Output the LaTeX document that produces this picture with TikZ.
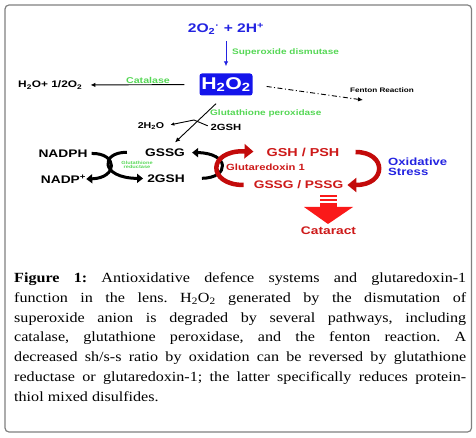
\documentclass[tikz,border=0pt]{standalone}
\usepackage{fontspec}
\usetikzlibrary{arrows.meta}
\newfontfamily\diafont[FakeStretch=1.25]{Liberation Sans}
\newfontfamily\captfont[FakeStretch=1.15]{Liberation Serif}
\definecolor{oxblue}{RGB}{35,35,225}
\definecolor{boxblue}{RGB}{20,20,235}
\definecolor{enzgreen}{RGB}{85,215,85}
\definecolor{grxred}{RGB}{205,25,25}
\definecolor{arcred}{RGB}{195,10,10}
\definecolor{catred}{RGB}{250,25,25}

\begin{document}
\begin{tikzpicture}[x=1pt,y=-1pt,
 lab/.style={font=\diafont\bfseries\fontsize{#1}{#1}\selectfont,inner sep=0pt},
 enz/.style={lab=#1,text=enzgreen},
 rxn/.style={-{Latex[length=5pt,width=4.5pt]},line width=.9pt},
 fat/.style={line width=3pt,-{Triangle[length=6pt,width=9pt]}},
 redfat/.style={line width=4.5pt,arcred,-{Triangle[length=9pt,width=14pt]}}]
\useasboundingbox (0,0) rectangle (476,438);
\draw[gray,line width=1.2pt,rounded corners=4pt] (5,5) rectangle (471.5,432);
% superoxide and H2O2
\node[lab=12.5,text=oxblue] (sup) at (226,29) {2O\textsubscript{2}\textsuperscript{·} + 2H\textsuperscript{+}};
\node[lab=17,text=white,fill=boxblue,rounded corners=2.5pt,minimum width=53pt,minimum height=22pt] (hoo) at (226,84.5) {H\textsubscript{2}O\textsubscript{2}};
\draw[rxn,oxblue] (sup) -- (hoo) [shorten <=6pt,shorten >=7pt];
\node[enz=8,anchor=west] (sod) at (232,52) {Superoxide dismutase};
% catalase and fenton
\node[lab=9.5,anchor=west] (prod) at (18,85) {H\textsubscript{2}O+ 1/2O\textsubscript{2}};
\draw[rxn] (hoo.west) -- (prod.east) [shorten <=15pt,shorten >=8pt];
\node[enz=8.5] (cat) at (148,80) {Catalase};
\node[lab=6.5] (fen) at (382,90) {Fenton Reaction};
\coordinate (fenend) at (363,100);
\draw[rxn,dash pattern=on 5pt off 2.5pt on 1pt off 2.5pt] (hoo.east) -- (fenend) [shorten <=14pt];
% glutathione peroxidase
\node[lab=11] (gssg) at (165,152.5) {GSSG};
\node[lab=11] (gshbot) at (166,178.5) {2GSH};
\node[enz=8,anchor=west] (gpx) at (210,113) {Glutathione peroxidase};
\draw[rxn] ([shift={(-10,8)}]hoo.south) -- ([shift={(10,-6)}]gssg.north);
\node[lab=9] (gshtop) at (226,127) {2GSH};
\node[lab=8.5] (wat) at (151,126) {2H\textsubscript{2}O};
\coordinate (apex) at (194,120);
\draw[rxn,-{Latex[length=4pt,width=3.5pt]}] (gshtop.west) -- (apex) -- (wat.east) [shorten <=3pt,shorten >=6pt];
% glutathione reductase
\node[lab=11] (nadph) at (63,153.5) {NADPH};
\node[lab=11] (nadp) at (63.5,179) {NADP\textsuperscript{+}};
\node[enz=4.5,align=center] (gr) at (137,165) {Glutathione\\reductase};
\draw[fat] (nadph.east) .. controls (118,153) and (118,178) .. (nadp.east) [shorten <=4pt];
\draw[fat] (gssg.west) .. controls (100,152) and (100,178) .. (gshbot.west) [shorten <=18pt,shorten >=4pt];
\draw[fat] (gshbot.east) .. controls (230,178) and (230,153) .. (gssg.east) [shorten <=17pt,shorten >=7pt];
% glutaredoxin cycle
\node[lab=11.5,text=grxred] (gshpsh) at (303,152) {GSH / PSH};
\node[lab=11,text=grxred] (gsspss) at (298.5,185) {GSSG / PSSG};
\node[lab=9,text=grxred,anchor=west] (grx) at (226,167.5) {Glutaredoxin 1};
\draw[redfat] (gsspss.west) .. controls (207,185) and (207,150) .. (gshpsh.west) [shorten <=10pt,shorten >=13pt];
\draw[redfat] (gshpsh.east) .. controls (387,152) and (387,185) .. (gsspss.east) [shorten <=16pt,shorten >=4pt];
\node[lab=10.5,text=oxblue,align=left,anchor=west,font=\diafont\bfseries\fontsize{10.5}{10}\selectfont] (stress) at (388,167) {Oxidative\\Stress};
% cataract
\node[lab=11,text=grxred] (cta) at (328.5,231) {Cataract};
\foreach \yy in {195,199}{\fill[catred] (319.5,\yy) rectangle (336.5,\yy+2.3);}
\fill[catred] (319.5,203) rectangle (336.5,208);
\fill[catred] (304,207) -- (353,207) -- (328,224) -- cycle;
% caption
\node[anchor=north west,inner sep=0pt,text width=452pt,align=justify,font=\captfont\fontsize{14}{19.8}\selectfont\frenchspacing] (capt) at (14,272.5) {{\bfseries Figure 1:} Antioxidative defence systems and glutaredoxin-1\linebreak function in the lens. H\textsubscript{2}O\textsubscript{2} generated by the dismutation of\linebreak superoxide anion is degraded by several pathways, including\linebreak catalase, glutathione peroxidase, and the fenton reaction. A\linebreak decreased sh/s-s ratio by oxidation can be reversed by glutathione\linebreak reductase or glutaredoxin-1; the latter specifically reduces protein-\linebreak thiol mixed disulfides.};
\end{tikzpicture}
\end{document}
